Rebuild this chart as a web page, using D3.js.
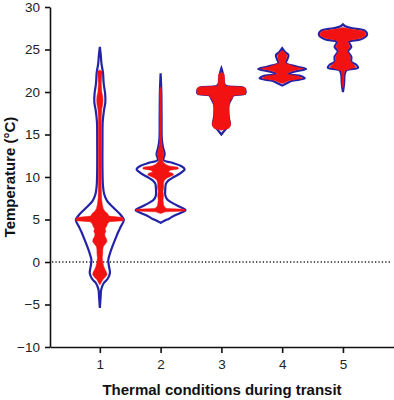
<!DOCTYPE html>
<html><head><meta charset="utf-8">
<script src="https://cdn.jsdelivr.net/npm/d3@7"></script>
<style>body{margin:0;background:#fff}svg{display:block;font-family:"Liberation Sans",Arial,sans-serif}</style>
</head><body><svg id="c" width="394" height="400"></svg>
<script>
const categories = [1, 2, 3, 4, 5];
const yTicks = [-10, -5, 0, 5, 10, 15, 20, 25, 30];
const xLabel = "Thermal conditions during transit";
const yLabel = "Temperature (°C)";

// violin outlines: [temperature, relative density]
const violin1 = [[25.3,0],[24.3,0.04],[23.3,0.07],[22.3,0.13],[21,0.16],[19.8,0.22],[18.8,0.23],[17.8,0.17],[16.5,0.12],[14,0.11],[11,0.11],[9,0.13],[8,0.18],[7.2,0.3],[6.3,0.6],[5.5,0.88],[4.95,1],[4.2,0.88],[3.5,0.76],[2.8,0.66],[1.8,0.52],[0.8,0.4],[0.2,0.35],[-0.5,0.38],[-1.3,0.42],[-2,0.32],[-2.5,0.16],[-3.2,0.06],[-4.2,0.03],[-5.4,0]];
const violin2 = [[22.2,0],[20,0.03],[17,0.04],[14.5,0.05],[13.5,0.1],[12.7,0.17],[12.0,0.12],[11.7,0.45],[11.3,0.85],[10.9,1.0],[10.4,0.8],[10.0,0.55],[9.6,0.33],[9.2,0.22],[8.8,0.2],[7.8,0.2],[7.3,0.3],[6.9,0.52],[6.5,0.8],[6.1,1.04],[5.8,0.85],[5.5,0.6],[5.1,0.35],[4.9,0.2],[4.6,0]];
const violin3 = [[22.8,0],[22.3,0.05],[21.5,0.09],[21.0,0.11],[20.7,0.2],[20.5,0.9],[20.2,1.0],[19.8,0.98],[19.6,0.5],[19.2,0.42],[18.5,0.3],[17.5,0.29],[16.8,0.32],[16.2,0.35],[15.7,0.2],[15.0,0]];
const violin4 = [[25.15,0],[24.7,0.12],[24.35,0.26],[23.9,0.22],[23.4,0.16],[23.0,0.6],[22.7,1.0],[22.4,0.5],[22.1,0.24],[21.85,0.8],[21.6,0.94],[21.3,0.38],[21.0,0.17],[20.75,0]];
const violin5 = [[27.96,0],[27.7,0.12],[27.5,0.4],[27.2,0.92],[26.7,1.0],[26.2,0.75],[25.9,0.25],[25.3,0.35],[24.8,0.21],[24.15,0.35],[23.55,0.35],[23.2,0.55],[22.85,0.63],[22.6,0.17],[22.2,0.08],[21.0,0.05],[20.0,0]];

// spread of the individual observations (red points): [temperature, relative spread]
const points1 = [[22.6,0],[22.4,0.1],[22.0,0.08],[21.0,0.06],[20.0,0.08],[19.5,0.12],[19.0,0.13],[18.5,0.12],[18.0,0.08],[17.0,0.06],[15.0,0.06],[13.0,0.06],[11.0,0.06],[9.0,0.06],[7.5,0.07],[6.8,0.1],[6.3,0.14],[6.0,0.2],[5.7,0.32],[5.4,0.38],[5.25,0.95],[5.1,1.0],[4.85,1.0],[4.75,0.4],[4.5,0.32],[4.2,0.28],[3.9,0.22],[3.6,0.25],[3.3,0.2],[3.0,0.22],[2.7,0.28],[2.4,0.3],[2.1,0.22],[1.8,0.14],[1.4,0.12],[1.0,0.12],[0.5,0.1],[0.0,0.12],[-0.5,0.16],[-0.9,0.22],[-1.2,0.28],[-1.5,0.3],[-1.8,0.22],[-2.1,0.12],[-2.4,0.06],[-2.7,0]];
const points2 = [[20.6,0],[20.3,0.04],[19.0,0.04],[17.0,0.04],[15.0,0.04],[14.0,0.05],[13.3,0.08],[13.0,0.12],[12.7,0.14],[12.4,0.12],[12.1,0.08],[11.8,0.1],[11.5,0.2],[11.3,0.35],[11.15,0.72],[10.95,0.74],[10.8,0.4],[10.6,0.32],[10.45,0.5],[10.25,0.54],[10.05,0.4],[9.85,0.25],[9.6,0.15],[9.2,0.12],[8.8,0.13],[8.3,0.1],[7.8,0.12],[7.3,0.1],[6.8,0.12],[6.5,0.15],[6.3,0.25],[6.2,1.02],[6.0,1.02],[5.9,0.2],[5.7,0]];
const points3 = [[22.3,0],[22.1,0.12],[21.5,0.13],[21.0,0.14],[20.7,0.18],[20.6,0.95],[20.4,1.02],[20.0,1.02],[19.7,1.0],[19.6,0.5],[19.3,0.46],[19.1,0.38],[18.5,0.32],[18.0,0.31],[17.5,0.32],[17.0,0.32],[16.6,0.36],[16.3,0.38],[16.0,0.38],[15.7,0.3],[15.5,0]];
const points4 = [[24.9,0],[24.7,0.08],[24.35,0.2],[23.9,0.17],[23.4,0.12],[23.0,0.5],[22.75,0.9],[22.6,0.6],[22.4,0.35],[22.1,0.18],[21.85,0.7],[21.6,0.85],[21.35,0.3],[21.1,0.1],[21.0,0]];
const points5 = [[27.6,0],[27.4,0.3],[27.2,0.85],[26.9,0.95],[26.6,0.95],[26.3,0.7],[26.1,0.3],[25.9,0.2],[25.6,0.25],[25.3,0.3],[25.0,0.22],[24.8,0.17],[24.5,0.25],[24.15,0.3],[23.7,0.3],[23.4,0.38],[23.1,0.5],[22.9,0.55],[22.7,0.3],[22.5,0.08],[22.0,0.04],[21.0,0.04],[20.5,0]];

const violins = [violin1, violin2, violin3, violin4, violin5];
const pointSets = [points1, points2, points3, points4, points5];

const svg = d3.select("#c");
const x = d3.scaleLinear().domain([0.18, 5.84]).range([50, 394]);
const y = d3.scaleLinear().domain([-10, 30]).range([347, 7]);
const w = d3.scaleLinear().domain([0, 1]).range([0, 24]);

// zero reference line
svg.append("line").attr("x1", 52).attr("x2", 390).attr("y1", y(0)).attr("y2", y(0))
  .attr("stroke", "#222").attr("stroke-width", 1.3).attr("stroke-dasharray", "1.3,2.1");

categories.forEach((c, i) => {
  const cx = x(c);
  const vArea = d3.area().curve(d3.curveCatmullRom.alpha(0.5))
    .y(d => y(d[0])).x0(d => cx - w(d[1])).x1(d => cx + w(d[1]));
  svg.append("path").attr("d", vArea(violins[i]))
    .attr("fill", "none").attr("stroke", "#2323a8").attr("stroke-width", 2.2);
  const pArea = d3.area().curve(d3.curveLinear)
    .y(d => y(d[0])).x0(d => cx - w(d[1])).x1(d => cx + w(d[1]));
  svg.append("path").attr("d", pArea(pointSets[i]))
    .attr("fill", "#f21212").attr("stroke", "#f21212").attr("stroke-width", 0.5)
    .attr("stroke-linejoin", "round");
});

// axes
const yAxis = svg.append("g").attr("transform", "translate(50,0)")
  .call(d3.axisLeft(y).tickValues(yTicks).tickSize(5).tickSizeOuter(0).tickPadding(5).tickFormat(d3.format("d")));
const xAxis = svg.append("g").attr("transform", "translate(0,347)")
  .call(d3.axisBottom(x).tickValues(categories).tickSize(6).tickSizeOuter(0).tickPadding(6).tickFormat(d3.format("d")));
[yAxis, xAxis].forEach(g => {
  g.selectAll("path,line").attr("stroke", "#111").attr("stroke-width", 1.6);
  g.selectAll("text").attr("font-size", "13.5px").attr("fill", "#222")
    .attr("font-family", "'Liberation Sans', Arial, sans-serif");
});

svg.append("text").attr("x", 222).attr("y", 395).attr("text-anchor", "middle")
  .attr("font-size", "15px").attr("font-weight", "bold").attr("fill", "#111").text(xLabel);
svg.append("text").attr("transform", "translate(15,177) rotate(-90)").attr("text-anchor", "middle")
  .attr("font-size", "15px").attr("font-weight", "bold").attr("fill", "#111").text(yLabel);
</script></body></html>
